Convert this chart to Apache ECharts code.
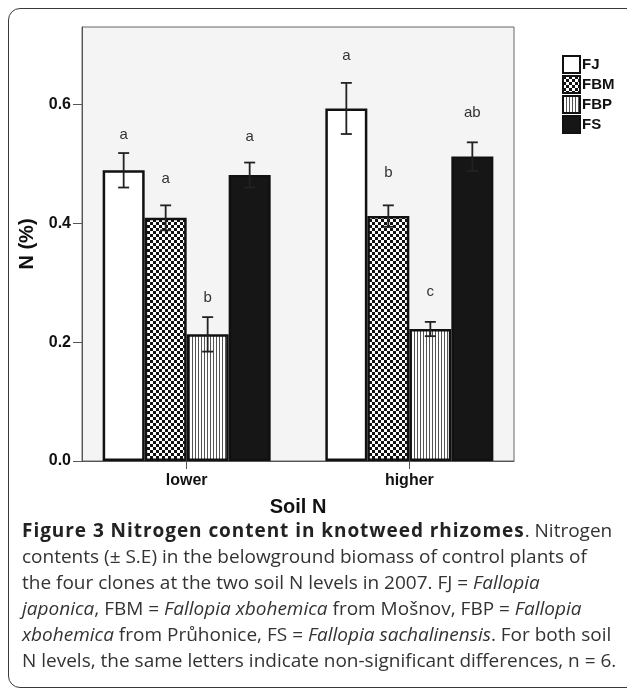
<!DOCTYPE html>
<html>
<head>
<meta charset="utf-8">
<script src="https://cdn.jsdelivr.net/npm/echarts@6/dist/echarts.min.js"></script>
<style>
  body { margin: 0; background: #fff; }
  #frame {
    position: absolute; left: 8px; top: 8px; width: 640px; height: 680px;
    border: 1.5px solid #3a3a3a; border-radius: 12px; box-sizing: border-box;
  }
  #main { position: absolute; left: 0; top: 0; width: 627px; height: 693px; }
  #caption {
    position: absolute; left: 22px; top: 517px;
    font-family: 'Open Sans', sans-serif; font-size: 19px; line-height: 26px;
    color: #333; white-space: nowrap;
  }
  #caption b { color: #222; letter-spacing: 0.95px; }
</style>
</head>
<body>
<div id="frame"></div>
<div id="main"></div>
<div id="caption">
  <b>Figure 3 Nitrogen content in knotweed rhizomes</b>. Nitrogen<br>
  contents (± S.E) in the belowground biomass of control plants of<br>
  the four clones at the two soil N levels in 2007. FJ = <i>Fallopia</i><br>
  <i>japonica</i>, FBM = <i>Fallopia xbohemica</i> from Mošnov, FBP = <i>Fallopia</i><br>
  <i>xbohemica</i> from Průhonice, FS = <i>Fallopia sachalinensis</i>. For both soil<br>
  N levels, the same letters indicate non-significant differences, n = 6.
</div>
<script>
// soil N levels on the x axis
const groups = ['lower', 'higher']
const clones = ['FJ', 'FBM', 'FBP', 'FS']

// mean N (%) and standard error per clone
const fjMean = [0.489, 0.593]
const fjSe = [0.029, 0.043]
const fbmMean = [0.409, 0.412]
const fbmSe = [0.021, 0.018]
const fbpMean = [0.213, 0.222]
const fbpSe = [0.029, 0.012]
const fsMean = [0.481, 0.512]
const fsSe = [0.021, 0.024]

// significance letters and the height they sit at
const fjLetters = ['a', 'a']
const fbmLetters = ['a', 'b']
const fbpLetters = ['b', 'c']
const fsLetters = ['a', 'ab']
const fjLetterAt = [0.548, 0.682]
const fbmLetterAt = [0.474, 0.484]
const fbpLetterAt = [0.274, 0.284]
const fsLetterAt = [0.546, 0.585]

const yTicks = [0, 0.2, 0.4, 0.6]

const BAR_W = 42

function checker(cell) {
  const c = document.createElement('canvas')
  c.width = c.height = cell * 2
  const ctx = c.getContext('2d')
  ctx.fillStyle = '#fff'
  ctx.fillRect(0, 0, cell * 2, cell * 2)
  ctx.fillStyle = '#111'
  ctx.fillRect(0, 0, cell, cell)
  ctx.fillRect(cell, cell, cell, cell)
  return c
}

function stripes() {
  const c = document.createElement('canvas')
  c.width = 3
  c.height = 3
  const ctx = c.getContext('2d')
  ctx.fillStyle = '#fff'
  ctx.fillRect(0, 0, 3, 3)
  ctx.fillStyle = '#555'
  ctx.fillRect(0, 0, 1, 3)
  return c
}

const fills = [
  '#ffffff',
  { image: checker(3), repeat: 'repeat' },
  { image: stripes(), repeat: 'repeat' },
  '#161616'
]
const means = [fjMean, fbmMean, fbpMean, fsMean]
const ses = [fjSe, fbmSe, fbpSe, fsSe]
const letters = [fjLetters, fbmLetters, fbpLetters, fsLetters]
const letterAt = [fjLetterAt, fbmLetterAt, fbpLetterAt, fsLetterAt]

const series = []
clones.forEach((name, i) => {
  series.push({
    name: name,
    type: 'bar',
    barWidth: BAR_W,
    barGap: '0%',
    itemStyle: { color: fills[i], borderColor: '#111', borderWidth: 2.5 },
    data: groups.map((g, k) => [k, means[i][k]])
  })
})

// error bars and letters, shifted onto each clone's bar
clones.forEach((name, i) => {
  const dx = (i - 1.5) * BAR_W
  series.push({
    type: 'custom',
    z: 5,
    silent: true,
    data: groups.map((g, k) => [k, means[i][k], ses[i][k]]),
    renderItem: (params, api) => {
      const top = api.coord([api.value(0), api.value(1) + api.value(2)])
      const bot = api.coord([api.value(0), api.value(1) - api.value(2)])
      const x = top[0] + dx
      const st = { stroke: '#222', lineWidth: 1.8 }
      return {
        type: 'group',
        children: [
          { type: 'line', shape: { x1: x, y1: top[1], x2: x, y2: bot[1] }, style: st },
          { type: 'line', shape: { x1: x - 5.5, y1: top[1], x2: x + 5.5, y2: top[1] }, style: st },
          { type: 'line', shape: { x1: x - 5.5, y1: bot[1], x2: x + 5.5, y2: bot[1] }, style: st }
        ]
      }
    }
  })
  series.push({
    type: 'custom',
    z: 5,
    silent: true,
    data: groups.map((g, k) => [k, letterAt[i][k]]),
    renderItem: (params, api) => {
      const p = api.coord([api.value(0), api.value(1)])
      return {
        type: 'text',
        style: {
          x: p[0] + dx, y: p[1],
          text: letters[i][params.dataIndex],
          fill: '#333', font: '15px "Liberation Sans", Arial, sans-serif',
          align: 'center', verticalAlign: 'middle'
        }
      }
    }
  })
})

const myChart = echarts.init(document.getElementById('main'), null, { renderer: 'canvas' })
const option = {
  animation: false,
  textStyle: { fontFamily: '"Liberation Sans", Arial, sans-serif' },
  grid: {
    left: 82, top: 27, width: 432, height: 434,
    show: true, backgroundColor: '#f4f4f4', borderColor: '#666', borderWidth: 1
  },
  legend: {
    data: clones,
    orient: 'vertical',
    left: 562, top: 55,
    padding: 0,
    itemWidth: 17, itemHeight: 17, itemGap: 1,
    icon: 'rect',
    textStyle: { fontSize: 15, fontWeight: 'bold', color: '#111', padding: [0, 0, 0, -3], lineHeight: 17 }
  },
  xAxis: {
    type: 'value',
    min: -0.47, max: 1.47,
    name: 'Soil N',
    nameLocation: 'middle',
    nameGap: 36,
    nameTextStyle: { fontSize: 20, fontWeight: 'bold', color: '#111' },
    axisLine: { show: true, onZero: false, lineStyle: { color: '#555' } },
    axisTick: { show: true, length: 8, customValues: [0, 1], lineStyle: { color: '#555' } },
    axisLabel: {
      customValues: [0, 1], margin: 12,
      fontSize: 16, fontWeight: 'bold', color: '#111',
      formatter: v => groups[Math.round(v)]
    },
    splitLine: { show: false }
  },
  yAxis: {
    type: 'value',
    min: 0, max: 0.73,
    name: 'N (%)',
    nameLocation: 'middle',
    nameGap: 38,
    nameRotate: 90,
    nameTextStyle: { fontSize: 20, fontWeight: 'bold', color: '#111' },
    axisLine: { show: true, onZero: false, lineStyle: { color: '#555' } },
    axisTick: { show: true, length: 9, customValues: yTicks, lineStyle: { color: '#555' } },
    axisLabel: {
      customValues: yTicks, margin: 11,
      fontSize: 16, fontWeight: 'bold', color: '#111',
      formatter: v => v.toFixed(1)
    },
    splitLine: { show: false }
  },
  series: series
}
myChart.setOption(option)
</script>
</body>
</html>
